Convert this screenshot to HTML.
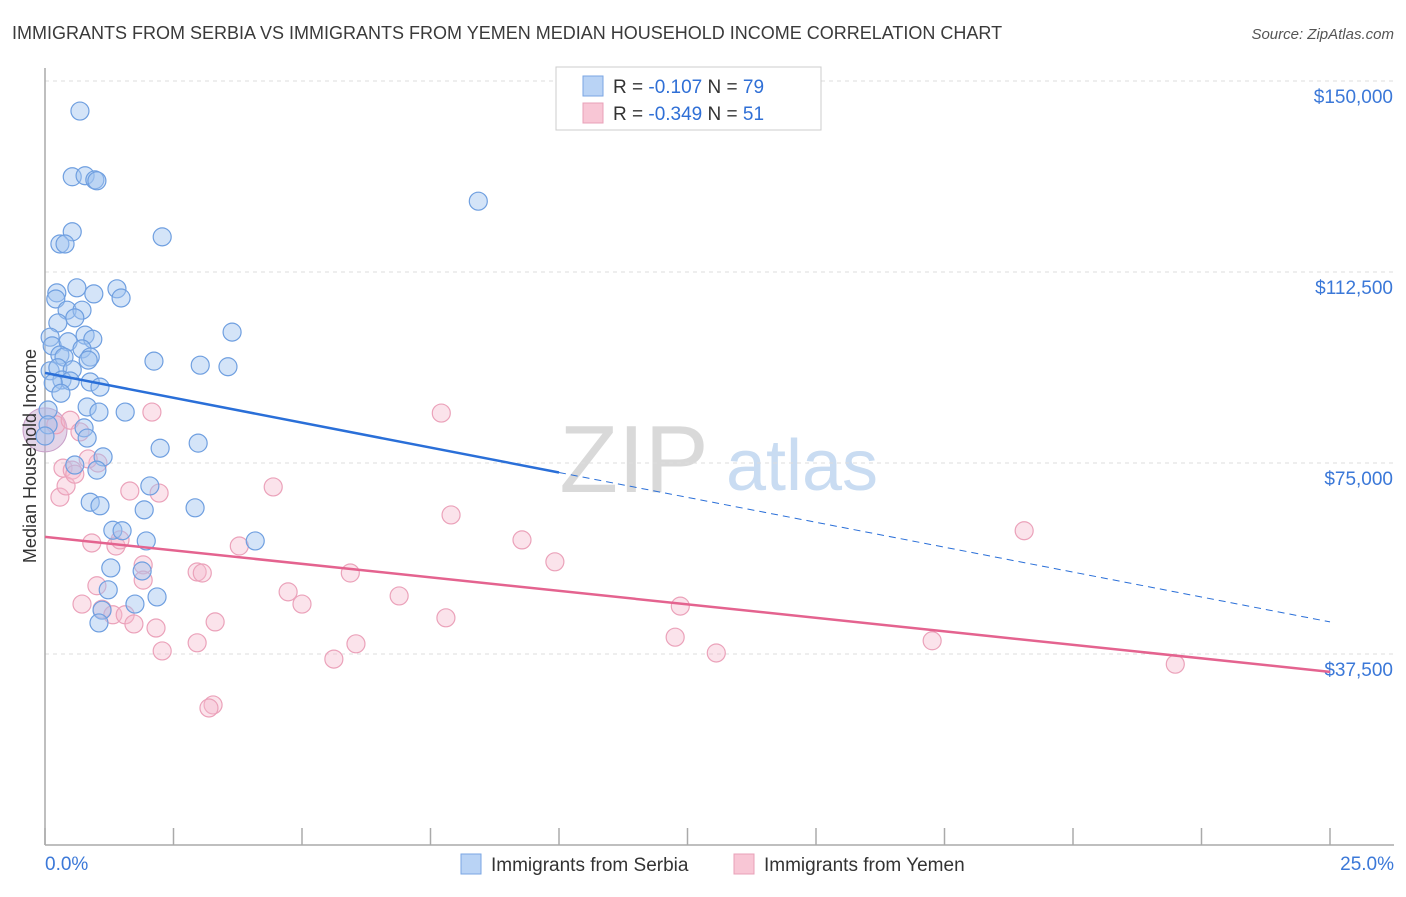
<!DOCTYPE html>
<html><head><meta charset="utf-8">
<style>
body{margin:0;background:#fff;font-family:"Liberation Sans",sans-serif;}
svg text{font-family:"Liberation Sans",sans-serif;}
</style></head><body>
<svg width="1406" height="892" viewBox="0 0 1406 892" xmlns="http://www.w3.org/2000/svg">
<text x="12" y="39" font-size="18" fill="#3a3a3a">IMMIGRANTS FROM SERBIA VS IMMIGRANTS FROM YEMEN MEDIAN HOUSEHOLD INCOME CORRELATION CHART</text>
<text x="1394" y="39" font-size="15" fill="#555" text-anchor="end" font-style="italic">Source: ZipAtlas.com</text>
<g>
<text x="634" y="492" font-size="96" fill="#d9d9d9" text-anchor="middle" font-family="Liberation Serif">ZIP</text>
<text x="802" y="490" font-size="72" fill="#c9dcf2" text-anchor="middle">atlas</text>
</g>
<g id="grid"></g>
<g id="axes"></g>
<g id="pts"></g>
<g id="trends"></g>
<text x="36" y="456" font-size="18" fill="#333" text-anchor="middle" transform="rotate(-90 36 456)">Median Household Income</text>
<g>
<rect x="556" y="67" width="265" height="63" fill="#fff" stroke="#ccc"/>
<rect x="583" y="76" width="20" height="20" fill="#b9d3f5" stroke="#7aa6e3"/>
<text x="613" y="93" font-size="19" fill="#333">R = <tspan fill="#2f6fd6">-0.107</tspan>   N = <tspan fill="#2f6fd6">79</tspan></text>
<rect x="583" y="103" width="20" height="20" fill="#f8c6d5" stroke="#e8a0b8"/>
<text x="613" y="120" font-size="19" fill="#333">R = <tspan fill="#2f6fd6">-0.349</tspan>   N =  <tspan fill="#2f6fd6">51</tspan></text>
</g>
<g>
<rect x="461" y="854" width="20" height="20" fill="#b9d3f5" stroke="#7aa6e3"/>
<text x="491" y="871" font-size="19" fill="#333">Immigrants from Serbia</text>
<rect x="734" y="854" width="20" height="20" fill="#f8c6d5" stroke="#e8a0b8"/>
<text x="764" y="871" font-size="19" fill="#333">Immigrants from Yemen</text>
</g>
</svg>
<script>
const yTicks=[150000,112500,75000,37500];
const yTickLabels=["$150,000","$112,500","$75,000","$37,500"];
const xTickLabels=["0.0%","25.0%"];
const serbiaX=[0.68,0.53,0.78,0.97,1.01,8.43,0.53,0.29,0.39,2.28,0.23,0.62,1.40,0.95,1.48,0.21,0.43,0.72,0.58,0.25,3.64,0.78,0.10,0.93,0.14,0.45,0.72,0.29,0.88,0.37,2.12,3.02,3.56,0.10,0.25,0.53,0.84,0.33,0.49,0.88,1.07,0.16,0.31,0.82,1.05,1.56,0.06,0.76,0.82,2.24,2.98,1.13,0.58,1.01,2.04,0.88,1.07,1.93,2.92,1.32,1.50,1.97,4.09,1.28,1.89,1.23,2.18,1.75,1.11,1.05,0.06,0.0];
const serbiaY=[144.1,131.2,131.4,130.6,130.4,126.4,120.4,118.0,118.0,119.4,108.4,109.4,109.2,108.2,107.4,107.2,105.0,105.0,103.5,102.5,100.7,100.1,99.7,99.3,98.0,98.8,97.4,96.2,95.8,95.8,95.0,94.2,93.9,93.1,93.7,93.3,95.2,91.3,91.1,90.9,89.9,90.7,88.7,86.0,85.0,85.0,85.4,81.9,79.9,77.9,78.9,76.2,74.6,73.6,70.5,67.3,66.6,65.8,66.2,61.8,61.7,59.7,59.7,54.4,53.8,50.1,48.7,47.3,46.1,43.6,82.5,80.3];
const yemenX=[2.08,7.71,0.21,0.49,0.68,0.35,0.53,1.03,0.29,0.41,0.58,0.84,1.65,2.22,4.44,7.90,19.05,9.28,0.91,1.38,1.46,3.78,9.92,1.91,2.96,3.06,5.94,1.91,1.01,4.73,6.89,5.00,0.72,1.11,1.32,1.56,1.73,2.16,3.31,7.80,12.36,12.26,2.96,6.05,2.28,13.06,17.26,5.62,21.99,3.27,3.19];
const yemenY=[85.0,84.8,82.5,83.4,81.1,74.0,73.6,75.0,68.3,70.5,72.8,75.8,69.5,69.1,70.3,64.8,61.7,59.9,59.3,58.7,59.9,58.7,55.6,55.0,53.6,53.4,53.4,52.0,50.9,49.7,48.9,47.3,47.3,46.3,45.2,45.2,43.4,42.6,43.8,44.6,46.9,40.8,39.7,39.5,38.1,37.7,40.1,36.5,35.5,27.5,26.9];
const bigX=[0.0];
const bigY=[81.5];
const serbiaTrend=[92.7,43.8];
const serbiaSolidEnd=10.0;
const yemenTrend=[60.5,34.0];
const NS="http://www.w3.org/2000/svg";
function sx(p){return 45+p/25*1285;}
function sy(v){return 845-v/150000*764;}
function mk(t,a,parent){const e=document.createElementNS(NS,t);for(const k in a)e.setAttribute(k,a[k]);parent.appendChild(e);return e;}
const grid=document.getElementById('grid'),axes=document.getElementById('axes'),pts=document.getElementById('pts'),tr=document.getElementById('trends');
yTicks.forEach((v,i)=>{
 const l=mk('line',{x1:45,x2:1394,y1:sy(v),y2:sy(v),stroke:'#ddd','stroke-dasharray':'4,4'},grid);
 
 
 const t=mk('text',{x:1393,y:sy(v)+22,'font-size':19,fill:'#3b78d8','text-anchor':'end'},axes);
 t.textContent=yTickLabels[i];
 
 
});
const ya=mk('line',{x1:45,x2:45,y1:68,y2:845,stroke:'#aaa','stroke-width':1.5},axes);


const xa=mk('line',{x1:45,x2:1394,y1:845,y2:845,stroke:'#aaa','stroke-width':1.5},axes);


for(let i=0;i<=10;i++){
 const t=mk('line',{x1:sx(i*2.5),x2:sx(i*2.5),y1:828,y2:845,stroke:'#aaa','stroke-width':1.5},axes);
 
 
}
[[0,45,'start'],[25,1394,'end']].forEach((d,i)=>{
 const t=mk('text',{x:d[1],y:870,'font-size':19,fill:'#3b78d8','text-anchor':d[2]},axes);
 t.textContent=xTickLabels[i];
 
 
});
bigX.forEach((x,i)=>{
 const c=mk('circle',{cx:sx(x),cy:sy(bigY[i]*1000),r:22,fill:'rgba(200,170,210,0.5)',stroke:'#c9a0c8'},pts);
 
 
});
yemenX.forEach((x,i)=>{
 const c=mk('circle',{cx:sx(x),cy:sy(yemenY[i]*1000),r:9,fill:'rgba(246,184,204,0.4)',stroke:'#eba2ba','stroke-width':1.2},pts);
 
 
});
serbiaX.forEach((x,i)=>{
 const c=mk('circle',{cx:sx(x),cy:sy(serbiaY[i]*1000),r:9,fill:'rgba(160,196,240,0.45)',stroke:'#6f9fe0','stroke-width':1.2},pts);
 
 
});
function lerp(a,x){return a[0]+(a[1]-a[0])*x/25;}
const b1=mk('line',{x1:sx(0),y1:sy(serbiaTrend[0]*1000),x2:sx(serbiaSolidEnd),y2:sy(lerp(serbiaTrend,serbiaSolidEnd)*1000),stroke:'#2a6fd8','stroke-width':2.5},tr);


const b2=mk('line',{x1:sx(serbiaSolidEnd),y1:sy(lerp(serbiaTrend,serbiaSolidEnd)*1000),x2:sx(25),y2:sy(serbiaTrend[1]*1000),stroke:'#2a6fd8','stroke-width':1,'stroke-dasharray':'7,5'},tr);


const p1=mk('line',{x1:sx(0),y1:sy(yemenTrend[0]*1000),x2:sx(25),y2:sy(yemenTrend[1]*1000),stroke:'#e4638f','stroke-width':2.5},tr);


</script>
</body></html>
